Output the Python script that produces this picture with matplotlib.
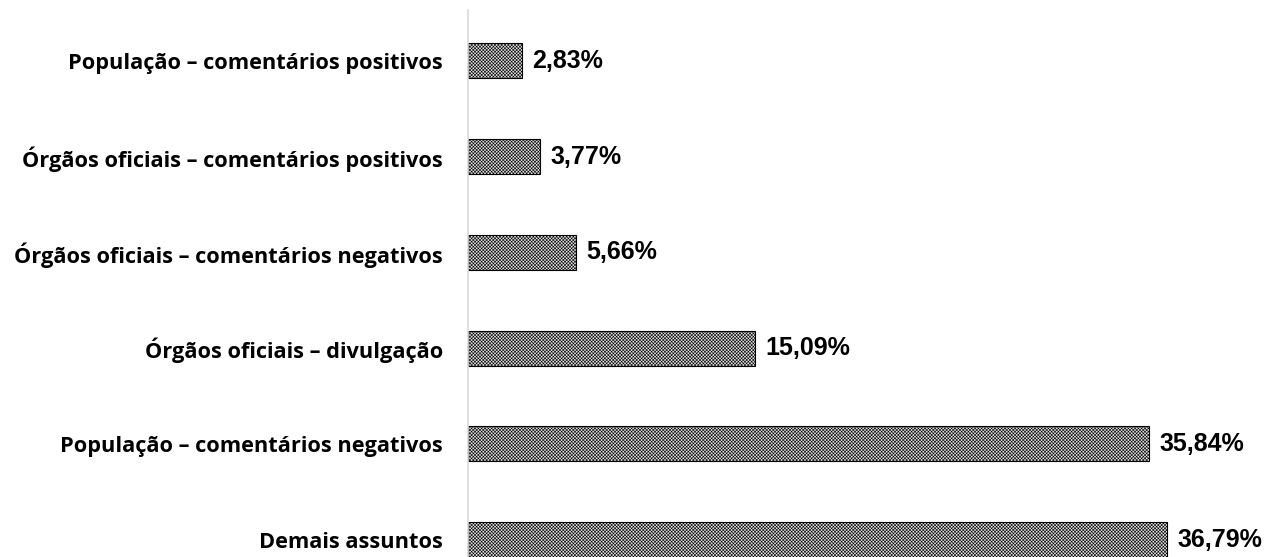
import matplotlib.pyplot as plt

categories = [
    "Demais assuntos",
    "População – comentários negativos",
    "Órgãos oficiais – divulgação",
    "Órgãos oficiais – comentários negativos",
    "Órgãos oficiais – comentários positivos",
    "População – comentários positivos",
]
values = [36.79, 35.84, 15.09, 5.66, 3.77, 2.83]
value_labels = ["36,79%", "35,84%", "15,09%", "5,66%", "3,77%", "2,83%"]

plt.rcParams["hatch.linewidth"] = 0.4
plt.rcParams["hatch.color"] = "#686868"

fig = plt.figure(figsize=(12.64, 5.57), dpi=100)
ax = fig.add_axes([468 / 1264, 0, 1 - 468 / 1264, 1 - 10 / 557])

ypos = range(len(categories))
ax.barh(ypos, values, height=0.365, color="#dadada", edgecolor="black",
        linewidth=0.8, hatch="xxxxxxxxxx")

for y, v, lab in zip(ypos, values, value_labels):
    ax.text(v + 0.55, y, lab, va="center", ha="left", fontsize=18,
            fontweight="bold", family="Liberation Sans")

ax.set_xlim(0, (1264 - 468) / 19.0)
ax.set_ylim(-0.18, 5.53)
ax.set_yticks(list(ypos))
ax.set_yticklabels(categories, fontsize=15.7, fontweight="bold", family="Open Sans")
ax.tick_params(axis="y", length=0, pad=18)
ax.set_xticks([])
for s in ["top", "right", "bottom"]:
    ax.spines[s].set_visible(False)
ax.spines["left"].set_color("#d9d9d9")
ax.spines["left"].set_linewidth(1.2)

fig.savefig("out.png", dpi=100)
